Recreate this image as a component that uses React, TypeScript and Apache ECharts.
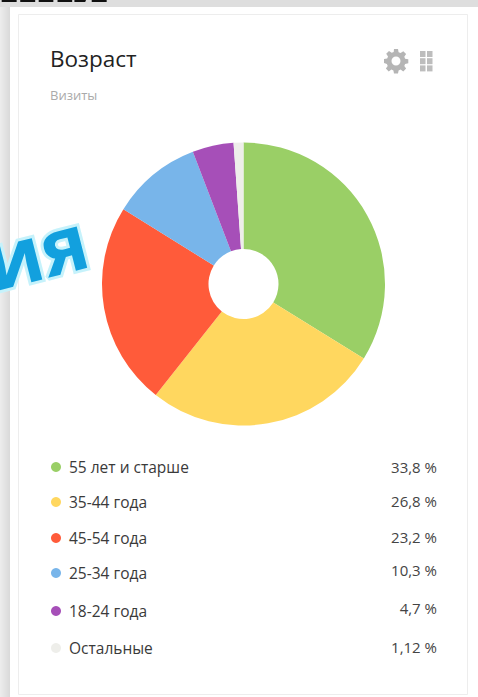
import React, { useEffect, useRef } from "react";
import * as echarts from "echarts";

const categories = ["55 лет и старше", "35-44 года", "45-54 года", "25-34 года", "18-24 года", "Остальные"];
const sliceValues = [33.8, 26.8, 23.2, 10.3, 4.7, 1.12];
const percentLabels = ["33,8 %", "26,8 %", "23,2 %", "10,3 %", "4,7 %", "1,12 %"];
const colors = ["#9ACF66", "#FFD75F", "#FF5B3A", "#78B5EA", "#A64FB8", "#EEEEEA"];
const nameRows = [467, 502, 538, 573, 611, 648];
const valueRows = [467, 501, 537, 570, 608, 647];

const gearPath =
  "M10 0h4l.6 3.2 2 .8 2.7-1.800 2.800 2.800-1.800 2.700.8 2 3.200.6v4l-3.200.6-.8 2 1.800 2.700-2.800 2.800-2.700-1.800-2 .8-.6 3.200h-4l-.6-3.200-2-.8-2.700 1.800-2.800-2.800 1.800-2.700-.8-2L0 14v-4l3.200-.6.8-2-1.800-2.700L5 1.900l2.700 1.800 2-.8zM12 7.500a4.500 4.500 0 1 0 0 9 4.500 4.500 0 0 0 0-9z";
echarts.graphic.registerShape("gear", echarts.graphic.extendPath(gearPath, {}) as any);

export default function App() {
  const ref = useRef<HTMLDivElement>(null);
  useEffect(() => {
    const chart = echarts.init(ref.current!, undefined, { renderer: "svg" });
    const font = "'Open Sans', sans-serif";
    const graphics: any[] = [
      { type: "rect", z: 0, shape: { x: 0, y: 0, width: 478, height: 7 }, style: { fill: "#DEDEDE" } },
      { type: "rect", z: 0, shape: { x: 0, y: 7, width: 10, height: 690 }, style: { fill: new echarts.graphic.LinearGradient(0, 0, 1, 0, [{ offset: 0, color: "#EDEDED" }, { offset: 1, color: "#D9D9D9" }]) } },
      { type: "rect", z: 1, shape: { x: 18.5, y: 14.5, width: 449, height: 680 }, style: { fill: "#fff", stroke: "#EDEDED", lineWidth: 1 } },
      { type: "text", z: 2, x: 0, y: -52, style: { text: "ния", font: "bold 64px 'Liberation Serif', serif", fill: "#111" } },
      { type: "text", z: 3, x: 36, y: 250, rotation: 0.25, style: { text: "ия", font: "bold 78px 'Open Sans', sans-serif", fill: "#12A0DE", stroke: "#C6F2FB", lineWidth: 6, shadowBlur: 6, shadowColor: "#5FDDF5", align: "center", verticalAlign: "middle" } },
      { type: "text", z: 4, x: 50, y: 47, style: { text: "Возраст", font: `22.5px ${font}`, fill: "#222" } },
      { type: "text", z: 4, x: 50, y: 88, style: { text: "Визиты", font: `13px ${font}`, fill: "#AAAAAA" } },
      { type: "gear", z: 4, x: 384, y: 49, style: { fill: "#B5B5B5" } },
    ];
    [0, 1, 2].forEach((r) =>
      [0, 1].forEach((c) =>
        graphics.push({ type: "rect", z: 4, shape: { x: 420 + c * 7, y: 51 + r * 7.2, width: 5.5, height: 6 }, style: { fill: "#BDBDBD" } })
      )
    );
    categories.forEach((name, i) => {
      graphics.push({ type: "circle", z: 4, shape: { cx: 56, cy: nameRows[i], r: 5 }, style: { fill: colors[i] } });
      graphics.push({ type: "text", z: 4, x: 69, y: nameRows[i], style: { text: name, font: `15.5px ${font}`, fill: "#3A3A3A", verticalAlign: "middle" } });
      graphics.push({ type: "text", z: 4, x: 437, y: valueRows[i], style: { text: percentLabels[i], font: `15px ${font}`, fill: "#444", align: "right", verticalAlign: "middle" } });
    });
    chart.setOption({
      animation: false,
      backgroundColor: "#fff",
      graphic: graphics,
      series: [
        {
          type: "pie",
          z: 5,
          center: [243.5, 284],
          radius: [35, 141.5],
          startAngle: 90,
          clockwise: true,
          label: { show: false },
          labelLine: { show: false },
          silent: true,
          data: categories.map((name, i) => ({ name, value: sliceValues[i], itemStyle: { color: colors[i] } })),
        },
      ],
    });
    return () => chart.dispose();
  }, []);
  return <div ref={ref} style={{ position: "fixed", left: 0, top: 0, width: 478, height: 697 }} />;
}
